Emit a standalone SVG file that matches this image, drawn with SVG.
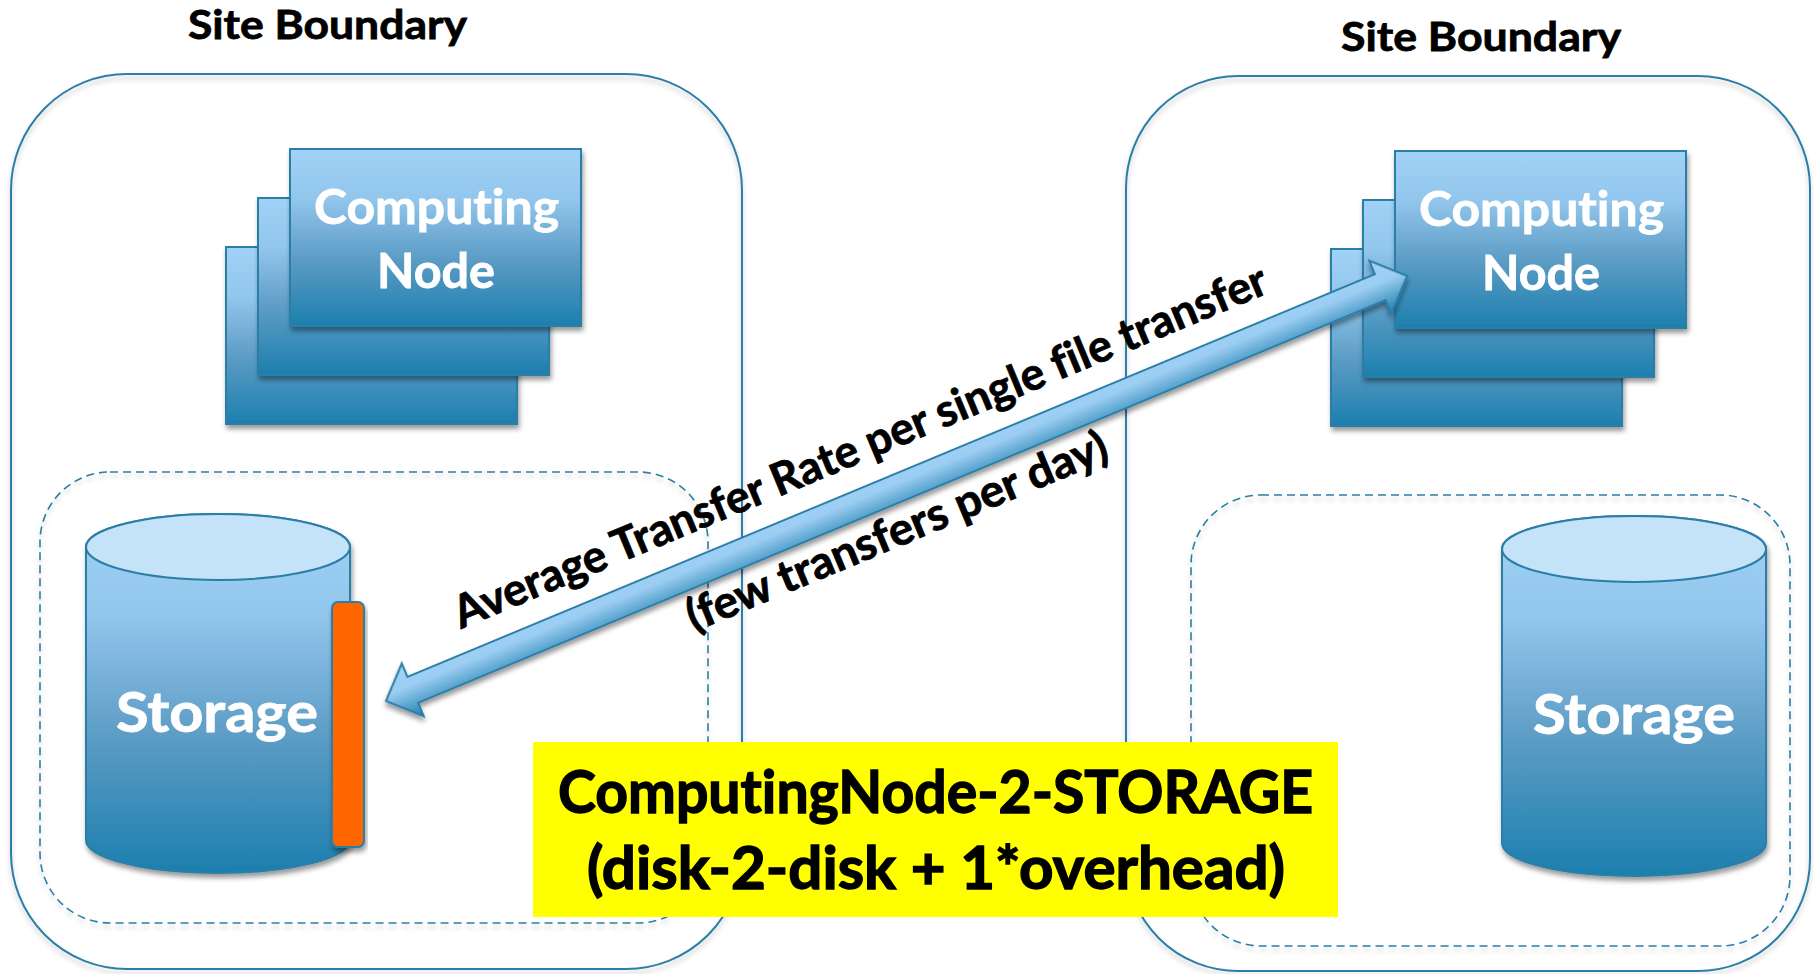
<svg xmlns="http://www.w3.org/2000/svg" width="1814" height="974" viewBox="0 0 1814 974">
<style>
text{font-family:"Lato","Open Sans","Liberation Sans",sans-serif;font-weight:700;font-variant-ligatures:none}
.box{stroke:#2b7ea8;stroke-width:2;filter:url(#sh)}
.rect{fill:url(#g)}
.wt{fill:#fff;stroke:#fff;stroke-width:0.8}
.bk{fill:#000;stroke:#000;stroke-width:0.8}
.site{fill:none;stroke:#2b7ea8;stroke-width:2;filter:url(#shl)}
.store{fill:none;stroke:#2b7ea8;stroke-width:1.6;stroke-dasharray:8 5;filter:url(#shl)}
.cn{font-size:48px}
.sb{font-size:41px}
.st{font-size:56px}
.ar{font-size:45px}
.yl{font-size:60px;stroke-width:1.4}
</style>
<defs>
<linearGradient id="g" x1="0" y1="0" x2="0" y2="1">
<stop offset="0" stop-color="#a0d2f7"/><stop offset="0.28" stop-color="#93c6ec"/><stop offset="0.62" stop-color="#5c9cc5"/><stop offset="1" stop-color="#1c7fae"/>
</linearGradient>
<linearGradient id="ag" gradientUnits="userSpaceOnUse" x1="0" y1="-28.5" x2="0" y2="28.5">
<stop offset="0" stop-color="#a0d2f7"/><stop offset="0.42" stop-color="#9ccdf2"/><stop offset="1" stop-color="#1c7fae"/>
</linearGradient>
<filter id="sh" x="-10%" y="-10%" width="120%" height="120%"><feDropShadow dx="1.5" dy="4" stdDeviation="2.5" flood-color="#000" flood-opacity="0.4"/></filter>
<filter id="shl" x="-5%" y="-5%" width="110%" height="110%"><feDropShadow dx="0" dy="4" stdDeviation="2.5" flood-color="#000" flood-opacity="0.22"/></filter>
<filter id="sha" x="-5%" y="-30%" width="110%" height="160%"><feDropShadow dx="-1.5" dy="4" stdDeviation="2.5" flood-color="#000" flood-opacity="0.4"/></filter>
</defs>
<rect width="1814" height="974" fill="#fff"/>

<g id="site-left">
<rect class="site" x="11" y="74" width="731" height="895" rx="116" ry="116"/>
<rect class="store" x="40" y="472" width="668" height="451" rx="70" ry="70"/>
<text class="sb bk" x="188" y="39" textLength="279" lengthAdjust="spacingAndGlyphs">Site Boundary</text>
</g>
<g id="site-right">
<rect class="site" x="1126" y="76" width="684" height="895" rx="112" ry="112"/>
<rect class="store" x="1191" y="495" width="599" height="451" rx="70" ry="70"/>
<text class="sb bk" x="1341" y="51" textLength="280" lengthAdjust="spacingAndGlyphs">Site Boundary</text>
</g>

<g id="computing-left">
<rect class="box rect" x="226" y="247" width="291" height="177"/>
<rect class="box rect" x="258" y="198" width="291" height="177"/>
<rect class="box rect" x="290" y="149" width="291" height="177"/>
<text class="cn wt" x="314" y="224" textLength="245" lengthAdjust="spacingAndGlyphs">Computing</text>
<text class="cn wt" x="377" y="288" textLength="118" lengthAdjust="spacingAndGlyphs">Node</text>
</g>
<g id="computing-right">
<rect class="box rect" x="1331" y="249" width="291" height="177"/>
<rect class="box rect" x="1363" y="200" width="291" height="177"/>
<rect class="box rect" x="1395" y="151" width="291" height="177"/>
<text class="cn wt" x="1419" y="226" textLength="245" lengthAdjust="spacingAndGlyphs">Computing</text>
<text class="cn wt" x="1482" y="290" textLength="118" lengthAdjust="spacingAndGlyphs">Node</text>
</g>

<g id="storage-left">
<path class="box rect" d="M86,547V840A132,33 0 0 0 350,840V547A132,33 0 0 0 86,547Z"/>
<ellipse cx="218" cy="547" rx="132" ry="33" fill="#c4e2f8" stroke="#2b7ea8" stroke-width="2"/>
<rect x="332" y="602" width="32" height="245" rx="6" fill="#ff6600" stroke="#2b7ea8" stroke-width="2" filter="url(#sh)"/>
<text class="st wt" x="116" y="732" textLength="202" lengthAdjust="spacingAndGlyphs">Storage</text>
</g>
<g id="storage-right">
<path class="box rect" d="M1502,549V843A132,33 0 0 0 1766,843V549A132,33 0 0 0 1502,549Z"/>
<ellipse cx="1634" cy="549" rx="132" ry="33" fill="#c4e2f8" stroke="#2b7ea8" stroke-width="2"/>
<text class="st wt" x="1533" y="734" textLength="202" lengthAdjust="spacingAndGlyphs">Storage</text>
</g>

<g id="connectors">
<polygon transform="translate(386,701) rotate(-22.6)" points="0,0 29,-28.5 29,-14 1077,-14 1077,-28.5 1106,0 1077,28.5 1077,14 29,14 29,28.5" fill="url(#ag)" stroke="#2b7ea8" stroke-width="2" stroke-linejoin="miter" filter="url(#sha)"/>
</g>

<g id="arrow-label">
<text class="ar bk" transform="translate(461,629) rotate(-22.6)" textLength="877" lengthAdjust="spacingAndGlyphs">Average Transfer Rate per single file transfer</text>
<text class="ar bk" transform="translate(694,632) rotate(-22.6)" textLength="452" lengthAdjust="spacingAndGlyphs">(few transfers per day)</text>
</g>

<g id="legend">
<rect x="533" y="742" width="805" height="175" fill="#ffff00"/>
<text class="yl bk" x="558" y="813" textLength="755" lengthAdjust="spacingAndGlyphs">ComputingNode-2-STORAGE</text>
<text class="yl bk" x="587" y="889" textLength="698" lengthAdjust="spacingAndGlyphs">(disk-2-disk + 1*overhead)</text>
</g>
</svg>
